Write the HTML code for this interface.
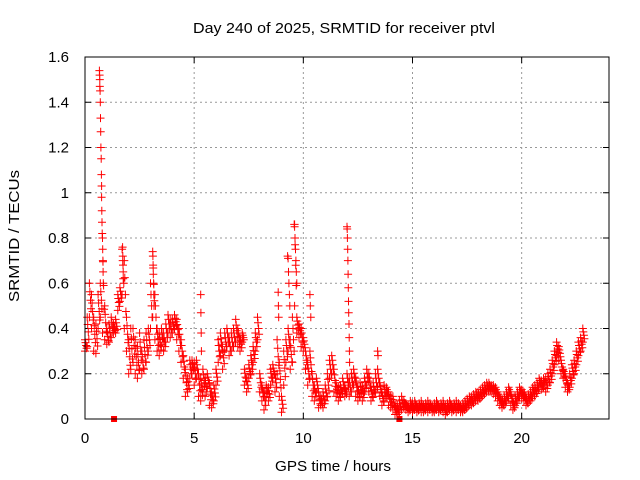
<!DOCTYPE html>
<html><head><meta charset="utf-8"><style>
body{margin:0;background:#fff}
svg{display:block;font-family:"Liberation Sans",sans-serif}
</style></head><body>
<svg id="chart" width="640" height="480" viewBox="0 0 640 480">
<text x="193" y="33" font-size="15" textLength="302" lengthAdjust="spacingAndGlyphs">Day 240 of 2025, SRMTID for receiver ptvl</text>
<text transform="translate(19,302) rotate(-90)" font-size="15" textLength="132" lengthAdjust="spacingAndGlyphs">SRMTID / TECUs</text>
<text x="275" y="471" font-size="15" textLength="116" lengthAdjust="spacingAndGlyphs">GPS time / hours</text>
<g id="grid"></g><g id="axes"></g><g id="marks"></g>
<rect x="85" y="57" width="524" height="362" fill="none" stroke="#000" stroke-width="1"/>
</svg>
<script>
const xTicks=[0,5,10,15,20];
const yTicks=[0,0.2,0.4,0.6,0.8,1,1.2,1.4,1.6];
const yTickLabels=["0","0.2","0.4","0.6","0.8","1","1.2","1.4","1.6"];
const startHour=0.0, stepHour=0.1;
const valsLo=[.30,.32,.45,.40,.30,.29,.40,.45,.38,.35,.33,.34,.36,.38,.38,.48,.52,.55,.40,.30,
.20,.22,.25,.20,.18,.22,.20,.22,.25,.30,.40,.45,.35,.30,.28,.32,.30,.34,.38,.36,
.38,.40,.35,.30,.25,.18,.10,.12,.18,.20,.15,.18,.10,.08,.12,.10,.14,.06,.05,.08,
.15,.25,.28,.22,.30,.32,.28,.30,.32,.34,.32,.30,.34,.15,.12,.18,.20,.25,.30,.35,
.12,.08,.04,.10,.08,.15,.18,.12,.20,.10,.03,.15,.25,.30,.22,.25,.50,.38,.36,.32,
.30,.22,.15,.18,.10,.08,.12,.05,.06,.05,.08,.10,.18,.20,.12,.10,.08,.10,.12,.10,
.12,.10,.12,.15,.10,.08,.10,.08,.12,.15,.12,.08,.10,.12,.14,.10,.06,.08,.10,.06,
.05,.04,.02,.02,.03,.04,.05,.04,.03,.04,.03,.04,.03,.04,.03,.03,.04,.03,.04,.03,
.03,.04,.03,.04,.03,.02,.03,.04,.03,.04,.03,.04,.03,.03,.04,.05,.06,.06,.07,.08,
.08,.09,.10,.11,.12,.12,.12,.11,.10,.08,.06,.05,.06,.08,.10,.06,.04,.06,.08,.10,
.09,.08,.06,.07,.08,.10,.10,.12,.14,.13,.14,.12,.15,.16,.20,.24,.28,.26,.20,.18,
.14,.12,.14,.18,.20,.24,.28,.30,.34];
const valsHi=[.35,.45,.60,.55,.45,.42,.55,.60,.80,.50,.40,.42,.45,.42,.44,.55,.58,.75,.70,.45,
.35,.40,.40,.35,.32,.38,.30,.35,.38,.40,.60,.74,.55,.40,.38,.40,.38,.42,.46,.44,
.44,.46,.44,.40,.35,.28,.22,.18,.26,.26,.25,.26,.20,.18,.22,.18,.20,.16,.12,.15,
.22,.35,.38,.32,.38,.40,.36,.38,.40,.44,.40,.36,.38,.22,.18,.24,.28,.32,.38,.45,
.20,.15,.12,.15,.14,.22,.24,.20,.35,.25,.10,.30,.35,.40,.35,.45,.86,.45,.42,.40,
.36,.30,.25,.30,.20,.15,.18,.12,.10,.12,.15,.20,.26,.28,.22,.16,.14,.15,.18,.14,
.20,.18,.20,.22,.18,.14,.16,.14,.18,.22,.20,.14,.16,.20,.22,.16,.12,.15,.14,.12,
.10,.10,.06,.06,.08,.10,.08,.07,.06,.08,.07,.08,.06,.07,.08,.06,.07,.08,.07,.06,
.07,.08,.06,.07,.08,.06,.07,.08,.06,.07,.08,.07,.06,.07,.08,.09,.10,.10,.11,.12,
.12,.13,.14,.15,.16,.16,.15,.15,.14,.12,.10,.09,.10,.12,.14,.12,.08,.10,.12,.14,
.13,.12,.10,.11,.12,.14,.15,.16,.18,.17,.18,.18,.20,.22,.26,.30,.34,.32,.26,.22,
.20,.16,.20,.24,.26,.30,.34,.36,.40];
const spikeT=[0.66,0.67,0.68,0.68,0.69,0.70,0.71,0.72,0.73,0.74,0.75,0.76,0.76,0.77,0.78,0.79,0.80,0.81,0.82,0.83,0.84,
1.72,1.73,1.74,1.75,3.10,3.11,3.12,3.13,3.14,3.15,3.16,5.30,5.31,5.32,5.33,
8.85,8.86,8.87,9.28,9.30,9.32,9.34,9.36,9.38,9.58,9.60,9.62,9.64,9.66,9.68,9.70,10.30,10.32,10.34,
12.00,12.01,12.02,12.03,12.04,12.05,12.06,12.07,12.08,12.09,12.10,12.11,12.12,13.40,13.42];
const spikeV=[1.54,1.52,1.50,1.47,1.45,1.40,1.33,1.27,1.20,1.15,1.08,1.03,0.98,0.92,0.87,0.82,0.80,0.75,0.70,0.65,0.60,
0.76,0.72,0.68,0.62,0.74,0.72,0.68,0.64,0.60,0.55,0.50,0.55,0.47,0.38,0.30,
0.56,0.50,0.45,0.72,0.71,0.65,0.60,0.55,0.50,0.86,0.85,0.80,0.75,0.70,0.65,0.60,0.55,0.50,0.45,
0.85,0.84,0.80,0.75,0.70,0.64,0.58,0.52,0.47,0.42,0.36,0.30,0.25,0.30,0.28];
const gapT=[1.33,14.4];
const gapV=[0,0];

const NS="http://www.w3.org/2000/svg";
const X0=85,X1=609,Y0=419,Y1=57,XMAX=24,YMAX=1.6;
function xs(h){return X0+(X1-X0)*h/XMAX;}
function ys(v){return Y0-(Y0-Y1)*v/YMAX;}
function mk(tag,attrs){const e=document.createElementNS(NS,tag);for(const k in attrs)e.setAttribute(k,attrs[k]);return e;}
const grid=document.getElementById('grid'),axes=document.getElementById('axes'),marks=document.getElementById('marks');
xTicks.forEach(t=>{
  const x=xs(t);
  if(t>0){const g=mk('line',{x1:x,y1:Y0,x2:x,y2:Y1,stroke:'#999','stroke-dasharray':'2,3'});
  
  grid.appendChild(g);}
  const tk=mk('path',{d:`M${x},${Y0}v-6M${x},${Y1}v6`,stroke:'#000'});
  
  axes.appendChild(tk);
  const lb=mk('text',{x:x,y:443,'font-size':15,'text-anchor':'middle'});lb.textContent=t;
  
  axes.appendChild(lb);
});
yTicks.forEach((t,i)=>{
  const y=ys(t);
  if(t>0&&t<YMAX){const g=mk('line',{x1:X0,y1:y,x2:X1,y2:y,stroke:'#999','stroke-dasharray':'2,3'});
  
  grid.appendChild(g);}
  const tk=mk('path',{d:`M${X0},${y}h6M${X1},${y}h-6`,stroke:'#000'});
  
  axes.appendChild(tk);
  const lb=mk('text',{x:69,y:y+5,'font-size':15,'text-anchor':'end'});lb.textContent=yTickLabels[i];
  
  axes.appendChild(lb);
});
let d='';
function plus(h,v){const x=xs(h),y=ys(v);d+=`M${(x-4).toFixed(1)},${y.toFixed(1)}h8M${x.toFixed(1)},${(y-4).toFixed(1)}v8`;}
for(let i=0;i<valsLo.length;i++){
  const h=startHour+i*stepHour,lo=valsLo[i],hi=valsHi[i];
  plus(h,lo);plus(h,hi);plus(h+0.05,(lo+hi)/2);plus(h+0.025,lo+(hi-lo)*0.75);plus(h+0.075,lo+(hi-lo)*0.25);
}
for(let i=0;i<spikeT.length;i++)plus(spikeT[i],spikeV[i]);
const p=mk('path',{d:d,stroke:'#f00','stroke-width':1,fill:'none'});

marks.appendChild(p);
for(let i=0;i<gapT.length;i++){
  const r=mk('rect',{x:xs(gapT[i])-3,y:ys(gapV[i])-3,width:6,height:6,fill:'#f00'});
  
  marks.appendChild(r);
}
</script>
</body></html>
